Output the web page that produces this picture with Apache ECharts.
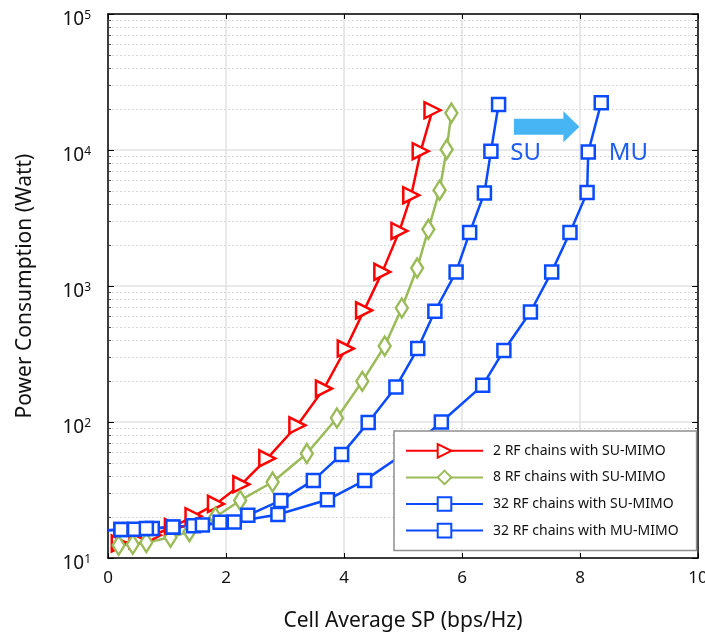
<!DOCTYPE html>
<html>
<head>
<meta charset="utf-8">
<script src="https://cdn.jsdelivr.net/npm/echarts@6/dist/echarts.min.js"></script>
<style>
  html, body { margin: 0; padding: 0; background: #ffffff; }
  #chart { width: 705px; height: 635px; }
</style>
</head>
<body>
<div id="chart"></div>
<script>
// Power consumption versus cell average spectral efficiency
const seriesNames = [
  '2 RF chains with SU-MIMO',
  '8 RF chains with SU-MIMO',
  '32 RF chains with SU-MIMO',
  '32 RF chains with MU-MIMO'
];

const rf2SuX = [0.20, 0.50, 0.76, 1.10, 1.45, 1.83, 2.26, 2.70, 3.21, 3.66, 4.03, 4.34, 4.65, 4.94, 5.14, 5.30, 5.50];
const rf2SuY = [12.8, 13.5, 14.7, 16.9, 20.3, 25.0, 34.8, 54, 94.6, 176, 347, 662, 1270, 2540, 4650, 9800, 19600];

const rf8SuX = [0.18, 0.42, 0.65, 1.06, 1.38, 1.82, 2.24, 2.79, 3.37, 3.88, 4.31, 4.69, 4.98, 5.24, 5.43, 5.62, 5.74, 5.82];
const rf8SuY = [12.4, 12.6, 13.0, 14.2, 15.6, 20.0, 26.5, 36.2, 58.6, 107, 199, 362, 689, 1355, 2610, 5060, 10100, 18700];

const rf32SuX = [0.00, 0.22, 0.45, 0.75, 1.10, 1.45, 1.90, 2.37, 2.93, 3.48, 3.96, 4.41, 4.88, 5.25, 5.54, 5.90, 6.13, 6.38, 6.49, 6.62];
const rf32SuY = [16.0, 16.2, 16.3, 16.5, 16.8, 17.3, 18.3, 20.6, 26.5, 37.2, 57.8, 99, 181, 347, 652, 1270, 2470, 4830, 9770, 21600];

const rf32MuX = [0.00, 0.22, 0.65, 1.10, 1.60, 2.14, 2.88, 3.72, 4.35, 5.05, 5.65, 6.35, 6.71, 7.16, 7.52, 7.83, 8.12, 8.14, 8.36];
const rf32MuY = [16.0, 16.2, 16.5, 16.9, 17.5, 18.4, 20.9, 26.8, 37.2, 60, 100, 186, 336, 644, 1270, 2470, 4860, 9660, 22300];

// Arrow from the SU curve towards the MU curve, with its two captions
const arrowX = [6.88, 7.99];
const arrowY = 14800;
const captionText = ['SU', 'MU'];
const captionX = [7.08, 8.82];
const captionY = 9470;

const yDecades = [10, 100, 1000, 10000, 100000];
const yMinorSteps = [2, 3, 4, 5, 6, 7, 8, 9];

const FONT = '"Noto Sans", "Open Sans", sans-serif';
const RED = '#ff0000';
const GREEN = '#9bbb59';
const BLUE = '#0a4bff';

const yMinorValues = [];
yDecades.slice(0, -1).forEach(d => yMinorSteps.forEach(s => yMinorValues.push(d * s)));

function pairs(xs, ys) {
  return xs.map((x, i) => (x === 0 ? { value: [x, ys[i]], symbol: 'none' } : [x, ys[i]]));
}

function lineSeries(name, xs, ys, color, symbol, size, rotate) {
  return {
    name: name,
    type: 'line',
    data: pairs(xs, ys),
    symbol: symbol,
    symbolSize: size,
    symbolRotate: rotate || 0,
    showAllSymbol: true,
    clip: true,
    z: 3,
    lineStyle: { color: color, width: 2.5 },
    itemStyle: { color: '#ffffff', borderColor: color, borderWidth: 2.5 },
    emphasis: { disabled: true }
  };
}

const chart = echarts.init(document.getElementById('chart'), null, { renderer: 'canvas' });

const axisBlack = { show: true, lineStyle: { color: '#000000', width: 1.5 } };

chart.setOption({
  animation: false,
  backgroundColor: '#ffffff',
  textStyle: { fontFamily: FONT },
  grid: { left: 108, top: 14, width: 590, height: 544, containLabel: false, outerBoundsMode: 'none' },
  legend: {
    orient: 'vertical',
    left: 394,
    top: 431,
    padding: [12, 18, 12, 11],
    itemWidth: 77,
    itemHeight: 17,
    itemGap: 11,
    selectedMode: false,
    backgroundColor: '#ffffff',
    borderColor: '#8f8f8f',
    borderWidth: 1.5,
    borderRadius: 0,
    textStyle: { fontFamily: FONT, fontSize: 14, color: '#111111', padding: [0, 0, 0, 5] },
    data: seriesNames
  },
  xAxis: [
    {
      type: 'value', min: 0, max: 10, interval: 2, position: 'bottom',
      name: 'Cell Average SP (bps/Hz)', nameLocation: 'middle', nameGap: 53,
      nameTextStyle: { fontFamily: FONT, fontSize: 21, color: '#111111' },
      axisLine: axisBlack,
      axisTick: { show: true, inside: true, length: 5, lineStyle: { color: '#000', width: 1 } },
      axisLabel: { fontFamily: FONT, fontSize: 17, color: '#111111', margin: 12 },
      splitLine: { show: true, lineStyle: { color: '#e2e2e2', width: 1.5 } }
    },
    {
      type: 'value', min: 0, max: 10, interval: 2, position: 'top',
      axisLine: axisBlack,
      axisTick: { show: true, inside: true, length: 5, lineStyle: { color: '#000', width: 1 } },
      axisLabel: { show: false },
      splitLine: { show: false }
    }
  ],
  yAxis: [
    {
      type: 'log', logBase: 10, min: 10, max: 100000, position: 'left',
      name: 'Power Consumption (Watt)', nameLocation: 'middle', nameGap: 72,
      nameTextStyle: { fontFamily: FONT, fontSize: 21, color: '#111111' },
      axisLine: axisBlack,
      axisTick: { show: true, inside: true, length: 6, lineStyle: { color: '#000', width: 1 } },
      axisLabel: {
        margin: 17,
        padding: [11, 0, 0, 0],
        formatter: v => '{b|10}{s|' + Math.round(Math.log10(v)) + '}',
        rich: {
          b: { fontFamily: FONT, fontSize: 19, color: '#111111', lineHeight: 20 },
          s: { fontFamily: FONT, fontSize: 12, color: '#111111', verticalAlign: 'top', lineHeight: 12 }
        }
      },
      splitLine: { show: true, lineStyle: { color: '#e2e2e2', width: 1.5 } }
    },
    {
      type: 'log', logBase: 10, min: 10, max: 100000, position: 'left',
      axisLine: { show: false },
      axisTick: { show: true, inside: true, length: 3, customValues: yMinorValues, lineStyle: { color: '#444', width: 1 } },
      axisLabel: { show: false },
      splitLine: { show: true, lineStyle: { color: '#d0d0d0', width: 1, type: [1.5, 2.5] } }
    },
    {
      type: 'log', logBase: 10, min: 10, max: 100000, position: 'right',
      axisLine: axisBlack,
      axisTick: { show: true, inside: true, length: 6, lineStyle: { color: '#000', width: 1 } },
      axisLabel: { show: false },
      splitLine: { show: false }
    },
    {
      type: 'log', logBase: 10, min: 10, max: 100000, position: 'right',
      axisLine: { show: false },
      axisTick: { show: true, inside: true, length: 3, customValues: yMinorValues, lineStyle: { color: '#444', width: 1 } },
      axisLabel: { show: false },
      splitLine: { show: false }
    }
  ],
  series: [
    lineSeries(seriesNames[0], rf2SuX, rf2SuY, RED, 'triangle', 16, -90),
    lineSeries(seriesNames[1], rf8SuX, rf8SuY, GREEN, 'diamond', [12, 19]),
    lineSeries(seriesNames[2], rf32SuX, rf32SuY, BLUE, 'rect', 13),
    lineSeries(seriesNames[3], rf32MuX, rf32MuY, BLUE, 'rect', 13),
    {
      type: 'custom',
      name: 'arrow',
      silent: true,
      z: 4,
      encode: { x: [0, 1], y: 2 },
      data: [[arrowX[0], arrowX[1], arrowY]],
      renderItem: (params, api) => {
        const a = api.coord([api.value(0), api.value(2)]);
        const b = api.coord([api.value(1), api.value(2)]);
        const neck = b[0] - 16, body = 8, head = 15.5;
        return {
          type: 'polygon',
          shape: {
            points: [
              [a[0], a[1] - body], [neck, a[1] - body], [neck, a[1] - head],
              [b[0], b[1]], [neck, a[1] + head], [neck, a[1] + body], [a[0], a[1] + body]
            ]
          },
          style: { fill: '#47b5f3' }
        };
      }
    },
    {
      type: 'custom',
      name: 'caption',
      silent: true,
      z: 4,
      data: captionX.map(x => [x, captionY]),
      renderItem: (params, api) => {
        const p = api.coord([api.value(0), api.value(1)]);
        return {
          type: 'text',
          x: p[0], y: p[1],
          style: {
            text: captionText[params.dataIndex],
            fill: '#1f5cf2',
            fontFamily: FONT,
            fontSize: 24,
            align: 'center',
            verticalAlign: 'middle'
          }
        };
      }
    }
  ]
});
</script>
</body>
</html>
